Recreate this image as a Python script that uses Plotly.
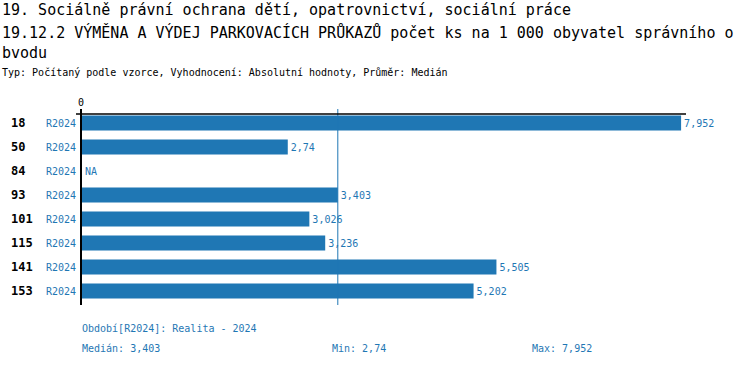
import plotly.graph_objects as go

categories = ["18", "50", "84", "93", "101", "115", "141", "153"]
periods = ["R2024"] * 8
values = [7.952, 2.74, None, 3.403, 3.026, 3.236, 5.505, 5.202]
median_val = 3.403
min_val = 2.74
max_val = 7.952

title1 = "19. Sociálně právní ochrana dětí, opatrovnictví, sociální práce"
title2 = "19.12.2 VÝMĚNA A VÝDEJ PARKOVACÍCH PRŮKAZŮ počet ks na 1 000 obyvatel správního o"
title3 = "bvodu"
subtitle = "Typ: Počítaný podle vzorce, Vyhodnocení: Absolutní hodnoty, Průměr: Medián"
footer1 = "Období[R2024]: Realita - 2024"

BLUE = "#1f77b4"
FONT = "DejaVu Sans Mono"

W, H = 750, 366
L, R, T, B = 81, 20, 111, 63
PW = W - L - R
PH = H - T - B
XMAX = 8.6


def px(x):
    return (x - L) / PW


def py(y):
    return (H - B - y) / PH


def fmt(v):
    return ("%g" % v).replace(".", ",")


idx = list(range(len(categories)))
texts = [fmt(v) if v is not None else "" for v in values]

fig = go.Figure(go.Bar(
    y=idx, x=[v if v is not None else 0 for v in values], orientation="h",
    marker=dict(color=BLUE, line=dict(width=0)),
    text=texts, textposition="outside", cliponaxis=False,
    textfont=dict(family=FONT, size=10, color=BLUE),
    hoverinfo="skip", width=0.625,
))

ann = []
for i, c, p, v in zip(idx, categories, periods, values):
    ann.append(dict(x=px(9), y=i, xref="paper", yref="y", text="<b>%s</b>" % c,
                    showarrow=False, xanchor="left", yanchor="middle",
                    font=dict(family=FONT, size=12, color="black")))
    ann.append(dict(x=px(78), y=i, xref="paper", yref="y", text=p,
                    showarrow=False, xanchor="right", yanchor="middle",
                    font=dict(family=FONT, size=10, color=BLUE)))
    if v is None:
        ann.append(dict(x=0, y=i, xref="x", yref="y", text="NA", xshift=2,
                        showarrow=False, xanchor="left", yanchor="middle",
                        font=dict(family=FONT, size=10, color=BLUE)))

for t, y, s in [(title1, 10, 15), (title2, 32, 15), (title3, 53, 15), (subtitle, 73, 10)]:
    ann.append(dict(x=px(0), y=py(y), xref="paper", yref="paper", text=t,
                    showarrow=False, xanchor="left", yanchor="middle",
                    font=dict(family=FONT, size=s, color="black")))

ann.append(dict(x=0, y=py(103), xref="x", yref="paper", text="0", showarrow=False,
                xanchor="center", yanchor="middle", font=dict(family=FONT, size=10, color="black")))

ann.append(dict(x=px(80), y=py(328), xref="paper", yref="paper", text=footer1, showarrow=False,
                xanchor="left", yanchor="middle", font=dict(family=FONT, size=10, color=BLUE)))
for t, x in [("Medián: " + fmt(median_val), 80), ("Min: " + fmt(min_val), 330), ("Max: " + fmt(max_val), 530)]:
    ann.append(dict(x=px(x), y=py(348), xref="paper", yref="paper", text=t, showarrow=False,
                    xanchor="left", yanchor="middle", font=dict(family=FONT, size=10, color=BLUE)))

shapes = [
    dict(type="line", xref="x", yref="paper", x0=median_val, x1=median_val,
         y0=py(305), y1=py(109), line=dict(color=BLUE, width=1), layer="above"),
    dict(type="line", xref="paper", yref="paper", x0=px(81), x1=px(81),
         y0=py(305), y1=py(109), line=dict(color="black", width=2), layer="above"),
    dict(type="line", xref="paper", yref="paper", x0=px(76), x1=px(686),
         y0=py(114), y1=py(114), line=dict(color="black", width=1.5), layer="above"),
]

fig.update_layout(
    width=W, height=H,
    margin=dict(l=L, r=R, t=T, b=B, pad=0),
    paper_bgcolor="white", plot_bgcolor="white",
    showlegend=False,
    xaxis=dict(range=[0, XMAX], showgrid=False, zeroline=False, showticklabels=False,
               showline=False, ticks="", fixedrange=True),
    yaxis=dict(range=[len(idx) - 0.5, -0.5], showgrid=False, zeroline=False, showticklabels=False,
               showline=False, ticks="", fixedrange=True),
    annotations=ann, shapes=shapes,
    font=dict(family=FONT),
    uniformtext=dict(minsize=10, mode="show"),
)

fig.write_html("out.html", config={"displayModeBar": False},
               post_script="document.body.style.margin='0px';")
